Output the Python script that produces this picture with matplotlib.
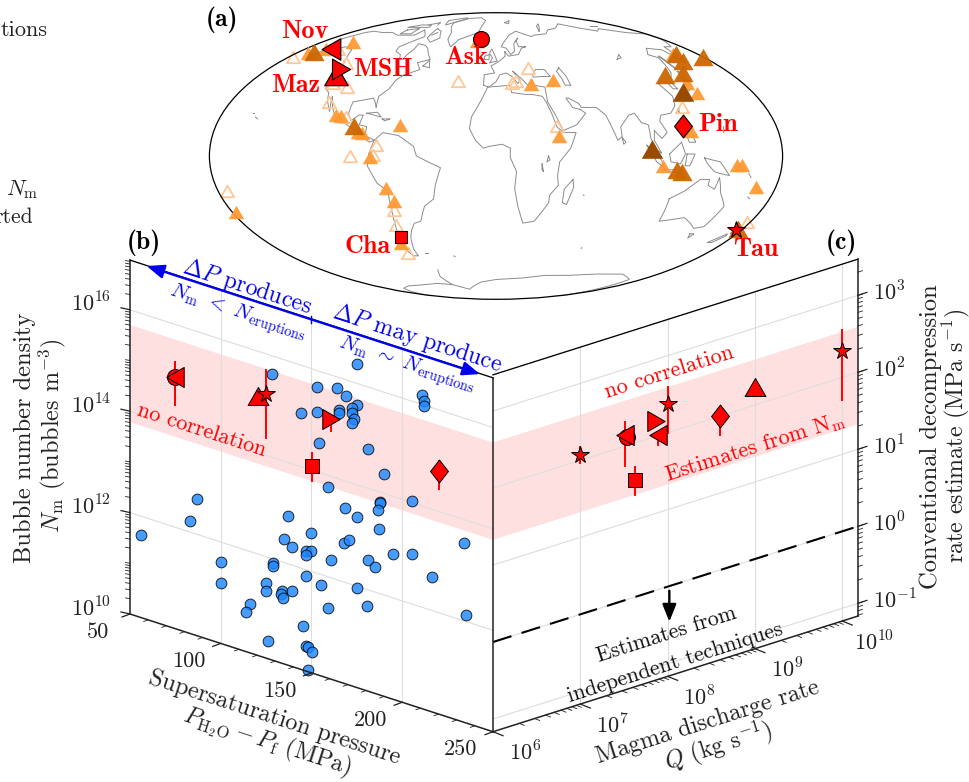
import numpy as np
import matplotlib
matplotlib.use("Agg")
import matplotlib.pyplot as plt
from matplotlib.path import Path
from matplotlib.transforms import Affine2D

plt.rcParams['font.family'] = 'cmr10'
plt.rcParams['mathtext.fontset'] = 'cm'
plt.rcParams['axes.unicode_minus'] = False
plt.rcParams['axes.formatter.use_mathtext'] = True

# ---------- panel (b) data: supersaturation pressure (MPa), log10 Nm ----------
b_dp = [128.2,175.1,153,164,169.2,211,212.1,212.1,175.1,172.1,165.2,172.1,165.2,153,144,173.3,172.1,154.1,181,190.1,
        159.3,87.1,187.7,187.7,205.2,168.5,186.5,82.9,56.1,175.1,137.1,149.9,135,139.1,147.1,149.9,147,168.1,170.7,187,
        234.2,195.1,205.2,181.1,185.2,160.7,129,129,100,100,147.1,155.1,175.1,216.2,124.9,124.9,133.6,133,134.1,139.1,
        116,113.9,159.1,180.7,235.1,145.5,126,147,147.9,150.1,148.1]
b_logn = [15.65,16.38,15.67,15.78,15.68,16.18,16.08,15.98,15.58,15.48,15.37,15.38,15.30,15.18,15.06,15.28,15.18,14.58,14.78,14.38,
          13.78,12.70,13.81,13.79,14.03,13.47,13.63,12.22,11.62,13.36,12.95,12.76,12.46,12.36,12.37,12.40,12.28,12.77,12.86,13.26,
          13.54,12.87,12.98,12.59,12.50,12.35,11.92,11.87,11.61,11.19,11.88,11.80,11.97,12.66,11.49,11.32,11.43,11.36,11.29,11.48,
          10.96,10.78,11.38,11.67,12.13,10.88,10.35,10.50,10.49,10.41,10.03]

# eruption order: Ask, Nov, Maz, Tau, MSH, Cha, Pin
b_red_markers = ['o', '<', '^', '*', '>', 's', 'D']
b_red_dp = [74.8, 74.8, 120.4, 124.9, 160.7, 150.1, 220.1]
b_red_logn = [14.97, 14.96, 15.12, 15.21, 15.13, 14.09, 14.80]
b_red_lo = [14.41, 14.41, 15.12, 14.34, 14.90, 13.79, 14.44]
b_red_hi = [15.26, 15.26, 15.12, 15.68, 15.20, 14.34, 15.00]

band_b_lo, band_b_hi = 13.79, 15.71
band_c_lo, band_c_hi = 1.335, 2.6
dashed_c = [0.0, 0.0]

# ---------- panel (c) data: log10 Q, log10 decompression rate ----------
c_red_markers = ['*', 'o', '<', 's', '>', '<', '*', 'D', '^', '*']
c_logq = [7.0, 7.538, 7.512, 7.623, 7.864, 7.893, 8.0, 8.6, 9.0, 9.994]
c_logr = [2.065, 2.113, 2.145, 1.521, 2.204, 2.012, 2.375, 2.0, 2.23, 2.344]
c_lo = [1.969, 2.113, 1.747, 1.322, 2.204, 1.878, 1.991, 1.753, 2.23, 1.708]
c_hi = [2.177, 2.113, 2.31, 1.686, 2.204, 2.012, 2.588, 2.0, 2.23, 2.617]

# ---------- panel (a) data: volcano lon/lat ----------
orange_lon = [-170,-160,-147.7,-104.8,-101.2,-88,-85.4,-61.5,-78.9,-71,-67.6,-177.4,-74.5,-20,25.4,42.4,39.9,159,139.6,140.3,124.6,105,151.9,155,167.5]
orange_lat = [56,58.5,63,21.2,20.3,12.5,12,16,-0.3,-16.2,-23,-29,-46,64,37.5,40,10,55.6,38.5,32.5,13,-5.1,-4.6,-4.6,-15.9]
dark_lon = [-165,-91.5,161,157,179,129,144.3,114.3,117.5,176.2]
dark_lat = [56.3,15.5,55.5,51,53.2,43,44,-7.2,-8,-38.2]
brown_lon = [131,98.3]
brown_lat = [33.2,3.6]
open_lon = [-175.4,-149.5,-124.5,-118.8,-107,-113.2,-98,-75.3,-91.5,-77,-69,-174.4,-71.3,-74.6,-27.8,25.7,14.6,11.9,39.5,124,178]
open_lat = [53.2,58.5,50,38.1,36.3,27.8,20,5.7,0,0.4,-27.7,-18,-36,-52,39.4,46.7,39.4,38.1,15.5,25,-34.6]
erupt_names = ['Ask','Nov','Maz','MSH','Cha','Pin','Tau']
erupt_markers = ['o','<','^','>','s','D','*']
erupt_lon = [-16.75,-155,-122.1,-122.2,-72.65,120.35,175.9]
erupt_lat = [65.05,58.3,42.9,46.2,-42.83,15.13,-38.8]

# ---------- coastlines (lon, lat) ----------
coasts = [
 [(-168,65.5),(-162,70),(-156,71),(-141,70),(-128,70),(-115,68),(-108,68),(-95,68),(-94,72),(-85,69),(-81,67),(-87,64),(-94,60),(-92,57),(-85,55),(-82,52),(-79,52),(-79,55),(-77,58),(-78,62),(-70,61),(-65,59),(-60,55),(-56,52),(-65,50),(-60,46),(-66,44),(-70,43),(-74,40),(-76,35),(-81,31),(-80,25),(-82,28),(-84,30),(-90,29),(-97,28),(-97,22),(-94,18),(-90,21),(-87,21),(-88,16),(-83,15),(-83,10),(-79,9),(-77,8),(-80,7),(-85,10),(-92,14),(-96,16),(-105,20),(-109,25),(-113,31),(-110,23),(-115,29),(-117,33),(-121,35),(-124,40),(-124,48),(-130,54),(-135,58),(-145,60),(-152,59),(-158,56),(-165,54),(-160,58),(-165,61),(-168,65.5)],
 [(-77,8),(-72,12),(-62,10.5),(-52,5),(-50,0),(-44,-2.5),(-35,-6),(-39,-15),(-41,-22),(-48,-26),(-53,-34),(-58,-35),(-62,-39),(-65,-43),(-68,-50),(-68,-54),(-72,-54),(-75,-50),(-73,-40),(-71,-30),(-70,-18),(-76,-14),(-81,-5),(-80,1),(-77,8)],
 [(-6,36),(10,37),(11,33),(20,32),(25,32),(32,31),(34,28),(37,21),(39,15),(43,12),(51,12),(47,4),(40,-3),(39,-10),(40,-15),(35,-20),(35,-24),(32,-28),(27,-34),(19,-35),(15,-27),(12,-17),(13,-8),(9,-1),(9,4),(4,6),(-4,5),(-8,4),(-13,8),(-17,14),(-16,20),(-10,29),(-6,36)],
 [(-9,37),(-9,43),(-1,44),(-4,48),(3,51),(8,54),(8,57),(11,54),(20,55),(24,59),(29,60),(22,60),(21,64),(24,66),(18,62),(17,57),(13,55),(10,59),(5,60),(8,63),(15,68),(25,71),(40,67),(44,68),(60,69),(68,72),(80,73),(100,77),(113,74),(130,71),(140,73),(160,70),(179,69),(179,65),(170,60),(163,60),(156,51),(155,58),(143,59),(135,55),(140,53),(135,44),(128,39),(129,35),(126,35),(125,39),(121,39),(118,38),(122,31),(120,26),(115,22),(108,21),(106,18),(109,12),(105,9),(101,13),(100,8),(104,1.5),(101,3),(98,9),(98,16),(94,17),(91,22),(87,21),(80,15),(80,10),(77,8),(73,18),(72,21),(67,25),(57,25),(56,27),(50,30),(48,30),(51,25),(56,24),(59,22),(52,16),(43,13),(39,21),(35,28),(35,36),(27,37),(26,40),(23,37),(20,40),(13,45),(18,40),(16,38),(12,42),(8,44),(3,43),(0,39),(-5,36),(-9,37)],
 [(114,-22),(122,-18),(130,-12),(136,-12),(136,-15),(141,-17),(142,-11),(146,-19),(153,-26),(150,-37),(144,-38),(138,-35),(131,-32),(124,-33),(115,-34),(114,-22)],
 [(-72,78),(-60,82),(-35,83),(-20,80),(-22,70),(-40,65),(-44,60),(-52,65),(-55,70),(-72,78)],
 [(-80,73),(-70,71),(-62,66),(-68,63),(-76,66),(-80,73)],
 [(-90,80),(-70,83),(-62,82),(-78,76),(-90,80)],
 [(-117,72),(-105,73),(-102,69),(-115,69),(-117,72)],
 [(-125,74),(-116,76),(-100,76),(-95,74),(-110,74),(-125,74)],
 [(-59,48),(-53,47),(-56,51.5),(-59,48)],
 [(-24,65),(-15,66),(-14,64.5),(-20,63.5),(-24,65)],
 [(-5,50),(1,51),(-2,56),(-4,58.5),(-6,56),(-3,53),(-5,50)],
 [(-10,52),(-6,52),(-6,55),(-10,54),(-10,52)],
 [(130,32),(136,34),(141,36),(141,41),(145,44),(141,45),(140,41),(136,37),(131,34),(130,32)],
 [(142,46),(143,54),(142,54),(142,46)],
 [(49,-12),(50,-16),(47,-25),(44,-24),(44,-17),(49,-12)],
 [(95,5.5),(104,-2),(106,-6),(101,-3),(95,5.5)],
 [(105,-7),(114,-7),(114,-8.5),(106,-7.5),(105,-7)],
 [(109,1),(117,7),(119,1),(116,-4),(110,-3),(109,1)],
 [(120,1),(125,1),(122,-5),(119,-5),(120,1)],
 [(131,-1),(141,-3),(148,-10),(142,-9),(138,-8),(133,-4),(131,-1)],
 [(120,18),(122,18),(124,13),(126,7),(122,7),(120,14),(120,18)],
 [(120.5,22),(122,25),(120.5,24),(120.5,22)],
 [(80,9.5),(82,7),(80.5,6),(80,9.5)],
 [(166.5,-46),(173,-41),(174,-42),(170,-46),(166.5,-46)],
 [(173,-35),(178,-38),(175,-41),(174,-38),(173,-35)],
 [(145,-41),(148,-41),(147,-43.5),(145,-41)],
 [(-85,22),(-75,20),(-78,22.5),(-85,22)],
 [(-74,19),(-69,19),(-72,18),(-74,19)],
 [(50,47),(53,42),(54,37),(50,37),(49,41),(47,45),(50,47)],
 [(28,43),(31,46),(38,46),(41,42),(35,42),(28,41.5),(28,43)],
 [(33,0),(34,-2),(32,-3),(33,0)],
 [(29,-4),(30,-8),(29,-7),(29,-4)],
 [(103,52),(109,55),(108,53),(103,52)],
 [(-60,-63),(-65,-68),(-62,-74),(-45,-78),(-20,-72),(0,-70),(30,-69),(55,-67),(80,-67),(110,-66),(140,-66),(165,-70),(170,-78),(178,-85)],
 [(-62,-74),(-80,-73),(-100,-74),(-130,-75),(-150,-77),(-179,-84)],
 [(145,12),(146,15)],[(-157,20),(-155,19)],[(-160,22),(-159,22)],
 [(150,-6),(154,-5),(152,-3)],[(160,-9),(162,-11)],[(167,-15),(168,-17)],[(165,-21),(167,-22)],
 [(-60,-52),(-58,-52)],[(-37,-54),(-36,-54.5)],[(70,-49),(70,-49.5)],[(57,-20),(57.5,-20.3)],
 [(15,78),(25,80),(20,77),(15,78)],[(55,71),(68,77),(60,75),(55,71)],[(140,75),(150,75)],
 [(-105,76),(-95,78),(-90,76)],[(-75,68),(-72,70)],[(-125,50),(-128,51)],
]

# equilateral-looking markers and narrow diamond (largest extent = marker size)
m_up = Path([(0, .866), (-1, -.866), (1, -.866), (0, .866)], closed=True)
m_left = Path([(-.866, 0), (.866, 1), (.866, -1), (-.866, 0)], closed=True)
m_right = Path([(.866, 0), (-.866, 1), (-.866, -1), (.866, 0)], closed=True)
m_diam = Path([(0, 1), (.78, 0), (0, -1), (-.78, 0), (0, 1)], closed=True)
mk = {'^': m_up, '<': m_left, '>': m_right, 'D': m_diam, 'o': 'o', 's': 's', '*': '*'}

# ---------- figure ----------
W, H = 969, 782
fig = plt.figure(figsize=(W/100, H/100), dpi=100)

mp = fig.add_axes([207.5/W, 1-299.3/H, 577/W, 286.6/H], projection='mollweide')
mp.set_xticks([]); mp.set_yticks([]); mp.grid(False)
mp.patch.set_alpha(0)
for s in mp.spines.values():
    s.set_linewidth(0.9); s.set_color('black')
for c in coasts:
    lo, la = zip(*c)
    mp.plot(np.radians(lo), np.radians(la), color='#8c8c8c', lw=0.7, zorder=1)
mp.plot(np.radians(open_lon), np.radians(open_lat), ls='', marker=m_up, ms=9.5, mfc='none', mec='#ffc796', mew=1.3, zorder=2, clip_on=False)
mp.plot(np.radians(orange_lon), np.radians(orange_lat), ls='', marker=m_up, ms=11.2, mfc='#ff9a33', mec='none', alpha=0.95, zorder=3, clip_on=False)
mp.plot(np.radians(dark_lon), np.radians(dark_lat), ls='', marker=m_up, ms=14.5, mfc='#cc6600', mec='none', alpha=0.95, zorder=4, clip_on=False)
mp.plot(np.radians(brown_lon), np.radians(brown_lat), ls='', marker=m_up, ms=15.5, mfc='#994c00', mec='none', zorder=5, clip_on=False)
map_sizes = {'o': 11.5, 's': 8.5, '*': 13, 'D': 16.5, '^': 17, '<': 15.5, '>': 15}
for m, lo, la in zip(erupt_markers, erupt_lon, erupt_lat):
    mp.plot(np.radians(lo), np.radians(la), ls='', marker=mk[m], ms=map_sizes[m], mfc='red', mec='black', mew=0.8, zorder=6, clip_on=False)

ax = fig.add_axes([0, 0, 1, 1])
ax.set_xlim(0, W); ax.set_ylim(H, 0); ax.axis('off'); ax.patch.set_alpha(0)

# value -> pixel mappings (oblique axes)
Tb = Affine2D.from_values(1.815, 0.5885, 0, -50.7, 39.25, 1091.575)
Tc = Affine2D.from_values(87.3, -27.67, 0, -77, -30.8, 808.04)
TB = Tb + ax.transData
TC = Tc + ax.transData

Xb = (50, 250); Yb = (10, 16.98)
Xc = (6, 10.18); Yc = (-1.165, 3.47)

# bands
ax.fill_between(Xb, band_b_lo, band_b_hi, color='red', alpha=0.12, lw=0, transform=TB, zorder=1)
ax.fill_between(Xc, band_c_lo, band_c_hi, color='red', alpha=0.12, lw=0, transform=TC, zorder=1)

# grid
gc = '#dddddd'
for v in (100, 150, 200):
    ax.plot([v, v], Yb, color=gc, lw=0.8, transform=TB, zorder=2)
for v in (12, 14, 16):
    ax.plot(Xb, [v, v], color=gc, lw=0.8, transform=TB, zorder=2)
for v in (7, 8, 9, 10):
    ax.plot([v, v], Yc, color=gc, lw=0.8, transform=TC, zorder=2)
for v in (-1, 0, 1, 2, 3):
    ax.plot(Xc, [v, v], color=gc, lw=0.8, transform=TC, zorder=2)

# spines
sp = dict(color='black', lw=0.95, zorder=6, solid_capstyle='projecting')
ax.plot([Xb[0], Xb[0]], Yb, transform=TB, color='#222222', lw=1.1, zorder=6)
ax.plot([Xb[1], Xb[1]], Yb, transform=TB, color='#222222', lw=1.1, zorder=6)
ax.plot(Xb, [Yb[0], Yb[0]], transform=TB, color='#222222', lw=1.1, zorder=6)
ax.plot(Xb, [Yb[1], Yb[1]], transform=TB, **sp)
ax.plot([Xc[1], Xc[1]], Yc, transform=TC, color='#222222', lw=1.1, zorder=6)
ax.plot(Xc, [Yc[0], Yc[0]], transform=TC, color='#222222', lw=1.1, zorder=6)
ax.plot(Xc, [Yc[1], Yc[1]], transform=TC, **sp)

def ticks(T, pts, vec, lw=0.8):
    for p in pts:
        q = T.transform(p)
        ax.plot([q[0], q[0]+vec[0]], [q[1], q[1]+vec[1]], color='#222222', lw=lw, zorder=6, clip_on=False)

dec_b = [d+np.log10(k) for d in range(10, 17) for k in range(2, 10)]
ticks(Tb, [(50, v) for v in (10, 12, 14, 16)], (-9, -2), 0.9)
ticks(Tb, [(50, v) for v in dec_b + [11, 13, 15]], (-4.5, -0.8), 0.6)
ticks(Tb, [(v, 10) for v in range(50, 251, 50)], (-8, 3), 0.9)
ticks(Tb, [(v, 10) for v in range(50, 251, 10) if v % 50], (-4.5, 1.6), 0.6)
dec_c = [d+np.log10(k) for d in range(-2, 4) for k in range(1, 10)]
dec_c = [v for v in dec_c if Yc[0] <= v <= Yc[1]]
ticks(Tc, [(Xc[1], v) for v in range(-1, 4)], (9, -3), 0.9)
ticks(Tc, [(Xc[1], v) for v in dec_c], (4.5, -1.5), 0.6)
ticks(Tc, [(v, Yc[0]) for v in range(6, 11)], (10, 4), 0.9)
qm = [d+np.log10(k) for d in range(6, 11) for k in range(2, 10)]
ticks(Tc, [(v, Yc[0]) for v in qm if v <= Xc[1]], (5, 2), 0.6)

# panel b data
ax.scatter(b_dp, b_logn, s=60, c='#1e88ff', alpha=0.82, edgecolors='black', linewidths=0.7, transform=TB, zorder=4, clip_on=False)
sizes = {'o': 11.5, 's': 10, 'D': 16.5, '^': 15, '<': 14.5, '>': 14.5, '*': 13}
for m, x, y, lo, hi in zip(b_red_markers, b_red_dp, b_red_logn, b_red_lo, b_red_hi):
    ax.plot([x, x], [lo, hi], color='red', lw=1.4, transform=TB, zorder=5)
    ax.plot([x], [y], marker=mk[m], ms=sizes[m], mfc='red', mec='black', mew=0.7, ls='', transform=TB, zorder=5.5)

# panel c data
for m, x, y, lo, hi in zip(c_red_markers, c_logq, c_logr, c_lo, c_hi):
    ax.plot([x, x], [lo, hi], color='red', lw=1.4, transform=TC, zorder=5)
    ax.plot([x], [y], marker=mk[m], ms=sizes[m], mfc='red', mec='black', mew=0.7, ls='', transform=TC, zorder=5.5)

ax.plot(Xc, dashed_c, color='black', lw=1.5, dashes=(9.3, 5.05), transform=TC, zorder=5)
ax.annotate('', xy=(8.02, -0.462), xytext=(8.02, -0.06), xycoords=TC, textcoords=TC,
            arrowprops=dict(arrowstyle='-|>,head_length=1.05,head_width=0.42', color='black', lw=1.7, shrinkA=0, shrinkB=0), zorder=6)

# blue arrow
for end in (59.2, 242.8):
    ax.annotate('', xy=(end, 16.97), xytext=(150, 16.97), xycoords=TB, textcoords=TB,
                arrowprops=dict(arrowstyle='-|>,head_length=1.05,head_width=0.42', color='#0000ee', lw=1.7, shrinkA=0, shrinkB=0), zorder=7)
pmid = Tb.transform((150, 16.97))
ax.plot([pmid[0], pmid[0]], [pmid[1]-3.5, pmid[1]+3.5], color='#0000ee', lw=1, zorder=7)

def T(x, y, s, size=16, color='#222222', rot=0, ha='center', va='center', **kw):
    return ax.text(x, y, s, fontsize=size, color=color, rotation=rot, ha=ha, va=va, rotation_mode='anchor', zorder=8, **kw)

# tick labels
for v in (10, 12, 14, 16):
    p = Tb.transform((50, v))
    T(p[0]-19, p[1]-6, '$10^{%d}$' % v, ha='right')
for v in (50, 100, 150, 200, 250):
    p = Tb.transform((v, 10))
    T(p[0]-32, p[1]+18, str(v))
for v in (-1, 0, 1, 2, 3):
    p = Tc.transform((Xc[1], v))
    T(p[0]+15, p[1]-3, '$10^{%d}$' % v, ha='left')
for v in (6, 7, 8, 9, 10):
    p = Tc.transform((v, Yc[0]))
    T(p[0]+32, p[1]+21, '$10^{%d}$' % v)

# axis labels
rb, rc = -17.9, 17.6
T(25, 438, 'Bubble number density', 17.6, rot=90)
T(52, 436, r'$N_{\mathrm{m}}$ (bubbles m$^{-3}$)', 17.4, rot=90)
T(931, 437, 'Conventional decompression', 17.7, rot=90)
T(956, 436, r'rate estimate (MPa s$^{-1}$)', 17.2, rot=90)
T(275, 718, 'Supersaturation pressure', 17.5, rot=rb)
T(267, 742, r'$P_{\mathrm{H_2O}} - P_{\mathrm{f}}$ (MPa)', 17.2, rot=rb)
T(708, 722, 'Magma discharge rate', 17.3, rot=rc)
T(718, 746, r'$Q$ (kg s$^{-1}$)', 17.3, rot=rc)

# annotations
blue = '#0000ee'
T(247, 287, r'$\Delta P$ produces', 17, blue, rb)
T(238, 313, r'$N_{\mathrm{m}}$ $<$ $N_{\mathrm{eruptions}}$', 14.8, blue, rb)
T(417, 338, r'$\Delta P$ may produce', 17, blue, rb)
T(407, 365, r'$N_{\mathrm{m}}$ $\sim$ $N_{\mathrm{eruptions}}$', 14.8, blue, rb)
T(201.7, 430, 'no correlation', 16, 'red', rb)
T(669, 372, 'no correlation', 16, 'red', rc)
T(755, 448, r'Estimates from N$_{\mathrm{m}}$', 16, 'red', rc)
T(666.7, 635, 'Estimates from', 15.8, '#111111', rc)
T(675, 663, 'independent techniques', 15.8, '#111111', rc)

# panel letters and volcano labels
for x, y, s in [(221.7, 19.3, '(a)'), (144, 243, '(b)'), (841.7, 243, '(c)')]:
    T(x, y, s, 18.5, 'black', family='cmb10')
for (x, y), s in zip([(466, 57.7), (305, 32), (296, 85), (383, 70), (367.7, 246.7), (717.7, 124.3), (756, 249)], erupt_names):
    T(x, y, s, 18.8, 'red', family='cmb10')

# partial text at the left edge of the source figure
T(48, 30, 'tions', 16, ha='right')
T(38, 190, r'$N_{\mathrm{m}}$', 16, ha='right')
T(33, 217, 'rted', 15.5, ha='right')

fig.savefig('out.png', dpi=100)
